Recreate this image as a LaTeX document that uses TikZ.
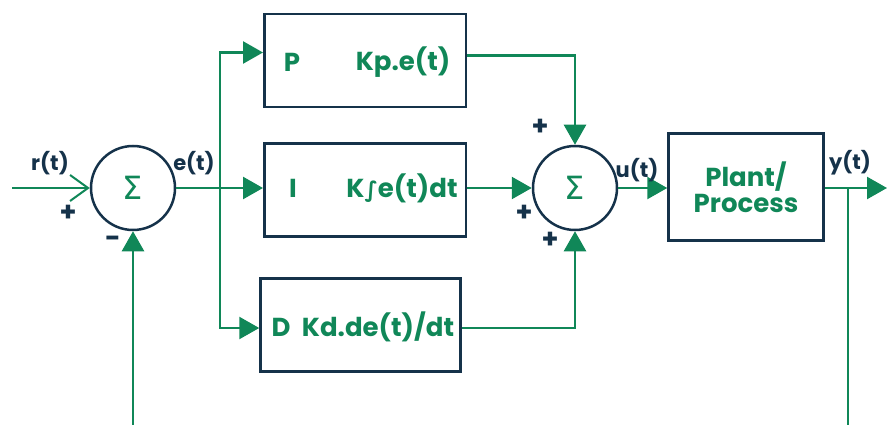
\documentclass[tikz,border=0pt]{standalone}
\usepackage{fontspec}
\setmainfont{Poppins}
\newfontfamily\symfont{DejaVu Sans}
\usetikzlibrary{arrows.meta}
\definecolor{grn}{RGB}{16,135,88}
\definecolor{navy}{RGB}{21,50,74}
\begin{document}
\begin{tikzpicture}[x=1pt,y=-1pt,
  blk/.style={draw=navy,line width=2.5pt,inner sep=0pt},
  sumn/.style={circle,draw=navy,line width=2.5pt,minimum size=84pt,inner sep=0pt,text=grn,font=\symfont\fontsize{32}{34}\selectfont},
  wire/.style={draw=grn,line width=2.5pt},
  arr/.style={wire,-{Triangle[length=20pt,width=22pt]}},
  lbl/.style={text=navy,font=\bfseries\fontsize{21}{24}\selectfont,inner sep=0pt},
  sgn/.style={text=navy,font=\bfseries\fontsize{27}{28}\selectfont,inner sep=0pt},
  btxt/.style={text=grn,font=\bfseries\fontsize{26}{29}\selectfont,inner sep=0pt,align=center},
]
\useasboundingbox (0,0) rectangle (887,425);
% blocks
\node[blk,minimum width=201.5pt,minimum height=93pt] (P) at (365,60.5) {};
\node[blk,minimum width=201.5pt,minimum height=93pt] (I) at (365,190) {};
\node[blk,minimum width=200pt,minimum height=93pt] (D) at (360.5,325) {};
\node[blk,minimum width=155pt,minimum height=107pt] (plant) at (746,187) {};
\node[sumn] (s1) at (133,188) {Σ};
\node[sumn] (s2) at (575,188) {Σ};
% block texts
\node[btxt] (pL) at (292,62) {P};
\node[btxt] (pK) at (403,62) {Kp.e(t)};
\node[btxt] (iL) at (293,188) {I};
\node[btxt] (iK) at (402,188) {K{\symfont\fontsize{22}{24}\selectfont ∫}e(t)dt};
\node[btxt] (dL) at (281,327) {D};
\node[btxt] (dK) at (378,327) {Kd.de(t)/dt};
\node[btxt] (plL) at (746,187) {Plant/\\[-3pt]Process};
% coordinates
\coordinate (rin) at (12,188);
\coordinate (br) at (220,188);
\coordinate (ytap) at (848,188);
\coordinate (yend) at (887,188);
\coordinate (ybot) at (848,425);
\coordinate (fbot) at (133,425);
% connectors
\draw[wire,-{Straight Barb[length=18pt,width=26pt,line width=2pt]}] (rin) -- (s1.west);
\draw[arr] (fbot) -- (s1.south);
\draw[wire] (s1.east) -- (br);
\draw[arr] (br) -- (br -| I.west);
\draw[arr] (br) |- ([yshift=8pt]P.west);
\draw[arr] (br) |- ([yshift=-3pt]D.west);
\draw[arr] ([yshift=5pt]P.east) -| (s2.north);
\draw[arr] (s2.west -| I.east) -- (s2.west);
\draw[arr] ([yshift=-3pt]D.east) -| (s2.south);
\draw[arr] (s2.east) -- (s2.east -| plant.west);
\draw[arr] (ytap -| plant.east) -- (yend);
\draw[wire] (ytap) -- (ybot);
% labels
\node[lbl] (rL) at (50,163) {r(t)};
\node[lbl] (eL) at (194,163) {e(t)};
\node[lbl] (uL) at (637,170) {u(t)};
\node[lbl] (yL) at (850,163) {y(t)};
\node[sgn] (p1) at (68,213) {+};
\node[sgn] (m1) at (113,242) {-};
\node[sgn] (p2) at (540,127) {+};
\node[sgn] (p3) at (524,213) {+};
\node[sgn] (p4) at (550,240) {+};
\end{tikzpicture}
\end{document}
